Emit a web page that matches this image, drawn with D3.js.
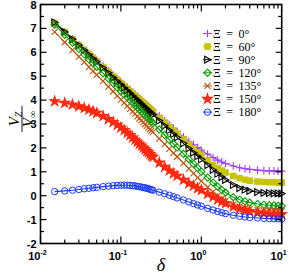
<!DOCTYPE html>
<html>
<head>
<meta charset="utf-8">
<script src="https://cdn.jsdelivr.net/npm/d3@7"></script>
<style>
  html, body { margin: 0; padding: 0; background: #fff; }
  svg { display: block; }
  .tick-label { font-family: "Liberation Sans", Arial, sans-serif; font-weight: bold; font-size: 11px; }
  .serif { font-family: "Liberation Serif", "Times New Roman", serif; }
</style>
</head>
<body>
<svg id="chart" width="291" height="275"></svg>
<script>
const delta = [0.015, 0.02, 0.025, 0.03, 0.035, 0.04, 0.045, 0.05, 0.06, 0.07, 0.08, 0.09,
    0.1, 0.11, 0.12, 0.13, 0.14, 0.15, 0.16, 0.17, 0.18, 0.19, 0.2, 0.21, 0.22, 0.23, 0.24, 0.25,
    0.3, 0.35, 0.4, 0.45, 0.5, 0.6, 0.7, 0.8, 0.9, 1.0, 1.2, 1.4, 1.6, 1.8, 2, 2.5, 3, 3.5, 4,
    5, 6, 7, 8, 9, 10];

const xi0 = [7.22, 6.85, 6.56, 6.32, 6.12, 5.95, 5.80, 5.66, 5.43, 5.23, 5.05, 4.90,
    4.76, 4.64, 4.53, 4.43, 4.33, 4.24, 4.16, 4.08, 4.00, 3.93, 3.87, 3.80, 3.75, 3.69, 3.63, 3.58,
    3.34, 3.14, 2.97, 2.82, 2.68, 2.46, 2.28, 2.13, 2.01, 1.91, 1.74, 1.60, 1.49, 1.41, 1.35, 1.24, 1.17, 1.13, 1.10,
    1.07, 1.05, 1.04, 1.04, 1.03, 1.03];
const xi60 = [7.23, 6.85, 6.55, 6.31, 6.11, 5.93, 5.78, 5.63, 5.39, 5.19, 5.01, 4.86,
    4.72, 4.59, 4.48, 4.37, 4.27, 4.18, 4.09, 4.02, 3.94, 3.87, 3.80, 3.73, 3.67, 3.61, 3.56, 3.50,
    3.26, 3.06, 2.88, 2.73, 2.59, 2.35, 2.14, 1.97, 1.82, 1.69, 1.47, 1.30, 1.16, 1.05, 0.97, 0.82, 0.73, 0.67, 0.63,
    0.59, 0.57, 0.56, 0.56, 0.55, 0.55];
const xi90 = [7.25, 6.85, 6.55, 6.30, 6.09, 5.90, 5.74, 5.60, 5.35, 5.14, 4.95, 4.79,
    4.65, 4.52, 4.40, 4.29, 4.18, 4.09, 4.00, 3.92, 3.84, 3.76, 3.69, 3.63, 3.57, 3.50, 3.45, 3.39,
    3.14, 2.93, 2.74, 2.58, 2.44, 2.19, 1.98, 1.80, 1.65, 1.52, 1.28, 1.08, 0.92, 0.78, 0.66, 0.45, 0.32, 0.25, 0.20,
    0.15, 0.12, 0.11, 0.10, 0.10, 0.09];
const xi120 = [7.15, 6.73, 6.40, 6.14, 5.91, 5.71, 5.54, 5.39, 5.12, 4.90, 4.70, 4.53,
    4.37, 4.23, 4.11, 3.99, 3.88, 3.78, 3.69, 3.60, 3.51, 3.43, 3.36, 3.29, 3.22, 3.15, 3.09, 3.03,
    2.77, 2.54, 2.34, 2.17, 2.02, 1.75, 1.53, 1.33, 1.16, 1.01, 0.76, 0.55, 0.38, 0.24, 0.13, -0.06, -0.17, -0.24, -0.29,
    -0.35, -0.38, -0.40, -0.41, -0.42, -0.43];
const xi135 = [6.85, 6.42, 6.09, 5.82, 5.59, 5.39, 5.21, 5.06, 4.79, 4.56, 4.36, 4.18,
    4.02, 3.88, 3.75, 3.63, 3.52, 3.42, 3.32, 3.23, 3.15, 3.07, 2.99, 2.92, 2.85, 2.78, 2.72, 2.66,
    2.39, 2.16, 1.96, 1.78, 1.63, 1.36, 1.13, 0.93, 0.76, 0.61, 0.36, 0.16, 0.00, -0.12, -0.21, -0.37, -0.46, -0.52, -0.56,
    -0.60, -0.62, -0.63, -0.64, -0.64, -0.64];
const xi150 = [3.95, 3.88, 3.81, 3.74, 3.67, 3.60, 3.53, 3.46, 3.33, 3.20, 3.08, 2.96,
    2.85, 2.74, 2.63, 2.53, 2.43, 2.34, 2.25, 2.17, 2.09, 2.01, 1.94, 1.87, 1.81, 1.74, 1.68, 1.62,
    1.38, 1.20, 1.05, 0.93, 0.83, 0.66, 0.52, 0.41, 0.31, 0.23, 0.08, -0.05, -0.16, -0.25, -0.32, -0.46, -0.55, -0.61, -0.65,
    -0.71, -0.74, -0.76, -0.77, -0.78, -0.78];
const xi180 = [0.17, 0.20, 0.23, 0.26, 0.29, 0.31, 0.33, 0.35, 0.38, 0.40, 0.42, 0.43,
    0.44, 0.44, 0.44, 0.43, 0.42, 0.41, 0.39, 0.38, 0.36, 0.34, 0.33, 0.31, 0.29, 0.27, 0.25, 0.23,
    0.15, 0.08, 0.02, -0.04, -0.09, -0.18, -0.26, -0.33, -0.39, -0.44, -0.53, -0.60, -0.66, -0.71, -0.75, -0.82, -0.86, -0.89, -0.91,
    -0.93, -0.95, -0.96, -0.96, -0.97, -0.97];

const seriesNames = ['Ξ = 0°', 'Ξ = 60°', 'Ξ = 90°', 'Ξ = 120°', 'Ξ = 135°', 'Ξ = 150°', 'Ξ = 180°'];
const seriesValues = [xi0, xi60, xi90, xi120, xi135, xi150, xi180];
const seriesColors = ['#a040f0', '#c8c400', '#000000', '#009a00', '#c0560a', '#ff2a10', '#1a3cff'];
const seriesMarkers = ['plus', 'square', 'triangle', 'diamond', 'cross', 'star', 'circle'];

const yTicks = [-2, -1, 0, 1, 2, 3, 4, 5, 6, 7, 8];
const xTicks = [0.01, 0.1, 1, 10];
const xTickExp = ['-2', '-1', '0', '1'];

const svg = d3.select('#chart');
const margin = { left: 40.5, right: 9.3, top: 4.5, bottom: 31.5 };
const W = 291, H = 275;

const x = d3.scaleLog().domain([0.01, 10]).range([margin.left, W - margin.right]);
const y = d3.scaleLinear().domain([-2, 8]).range([H - margin.bottom, margin.top]);

function markerPath(type) {
    switch (type) {
        case 'plus': return 'M-3.8,0H3.8M0,-3.8V3.8';
        case 'cross': return 'M-3,-3L3,3M-3,3L3,-3';
        case 'square': return 'M-2.7,-2.7H2.7V2.7H-2.7Z';
        case 'triangle': return 'M-2.8,-3.4L3.4,0L-2.8,3.4Z';
        case 'diamond': return 'M0,-3.6L3.6,0L0,3.6L-3.6,0Z';
        case 'star': return d3.symbol(d3.symbolStar, 30)();
        default: return null;
    }
}

function drawMarker(g, type, color) {
    if (type === 'circle') {
        g.append('circle').attr('r', 3.2).attr('fill', 'none').attr('stroke', color).attr('stroke-width', 1);
        return;
    }
    const filled = type === 'square' || type === 'star';
    g.append('path')
        .attr('d', markerPath(type))
        .attr('fill', filled ? color : 'none')
        .attr('stroke', color)
        .attr('stroke-width', 1.1);
}

// curves, drawn in legend order so later ones sit on top
const line = d3.line().x(d => x(d[0])).y(d => y(d[1]));
seriesValues.forEach((vals, i) => {
    const pts = delta.map((d, j) => [d, vals[j]]);
    const g = svg.append('g');
    g.append('path')
        .attr('d', line(pts))
        .attr('fill', 'none')
        .attr('stroke', seriesColors[i])
        .attr('stroke-width', 1.1);
    pts.forEach(p => {
        const m = g.append('g').attr('transform', `translate(${x(p[0])},${y(p[1])})`);
        drawMarker(m, seriesMarkers[i], seriesColors[i]);
    });
});

// frame
const x0 = margin.left, x1 = W - margin.right, y0 = margin.top, y1 = H - margin.bottom;
svg.append('rect')
    .attr('x', x0).attr('y', y0).attr('width', x1 - x0).attr('height', y1 - y0)
    .attr('fill', 'none').attr('stroke', '#000').attr('stroke-width', 1.6);

// y ticks (major and half-unit minor), inward on both sides
const axisG = svg.append('g').attr('stroke', '#000').attr('stroke-width', 1.2);
d3.range(-2, 8.01, 0.5).forEach(v => {
    const major = Math.abs(v - Math.round(v)) < 1e-6;
    const len = major ? 6 : 3.5;
    axisG.append('line').attr('x1', x0).attr('x2', x0 + len).attr('y1', y(v)).attr('y2', y(v));
    axisG.append('line').attr('x1', x1).attr('x2', x1 - len).attr('y1', y(v)).attr('y2', y(v));
});

// x ticks (log), inward on bottom and top
xTicks.slice(0, -1).forEach(dec => {
    for (let k = 1; k <= 9; k++) {
        const v = dec * k;
        const len = k === 1 ? 7 : 4;
        axisG.append('line').attr('x1', x(v)).attr('x2', x(v)).attr('y1', y1).attr('y2', y1 - len);
        axisG.append('line').attr('x1', x(v)).attr('x2', x(v)).attr('y1', y0).attr('y2', y0 + len);
    }
});

svg.append('g').selectAll('text')
    .data(yTicks).join('text')
    .attr('class', 'tick-label')
    .attr('x', x0 - 4)
    .attr('y', d => y(d) + 4)
    .attr('text-anchor', 'end')
    .text(d => d);

xTicks.forEach((v, i) => {
    const t = svg.append('text').attr('class', 'tick-label')
        .attr('x', x(v) - 3).attr('y', y1 + 16).attr('text-anchor', 'middle');
    t.append('tspan').text('10');
    t.append('tspan').attr('dy', -5).attr('font-size', 7).text(xTickExp[i]);
});

// axis titles
svg.append('text').attr('class', 'serif')
    .attr('x', 161).attr('y', 271)
    .attr('text-anchor', 'middle')
    .attr('font-size', 18).attr('font-style', 'italic')
    .text('δ');

const yl = svg.append('g').attr('transform', 'translate(22,119) rotate(-90)');
const num = yl.append('text').attr('class', 'serif').attr('x', 0).attr('y', -3)
    .attr('text-anchor', 'middle').attr('font-size', 15).attr('font-style', 'italic');
num.append('tspan').text('V');
num.append('tspan').attr('dy', 3).attr('font-size', 10).text('Z');
yl.append('line').attr('x1', -13).attr('x2', 13).attr('y1', 0).attr('y2', 0)
    .attr('stroke', '#000').attr('stroke-width', 0.9);
const den = yl.append('text').attr('class', 'serif').attr('x', 0).attr('y', 11)
    .attr('text-anchor', 'middle').attr('font-size', 15).attr('font-style', 'italic');
den.append('tspan').text('V');
den.append('tspan').attr('dy', 3).attr('font-size', 10).attr('font-style', 'normal').text('∞');

// legend
const legend = svg.append('g');
seriesNames.forEach((name, i) => {
    const ly = 33.5 + i * 13.1;
    const row = legend.append('g').attr('transform', `translate(203,${ly})`);
    row.append('line').attr('x1', 0).attr('x2', 9).attr('y1', 0).attr('y2', 0)
        .attr('stroke', seriesColors[i]).attr('stroke-width', 1);
    const m = row.append('g').attr('transform', 'translate(4.5,0)');
    drawMarker(m, seriesMarkers[i], seriesColors[i]);
    row.append('text').attr('class', 'serif')
        .attr('x', 10).attr('y', 4)
        .attr('font-size', 12)
        .attr('word-spacing', 2.5)
        .text(name);
});
</script>
</body>
</html>
